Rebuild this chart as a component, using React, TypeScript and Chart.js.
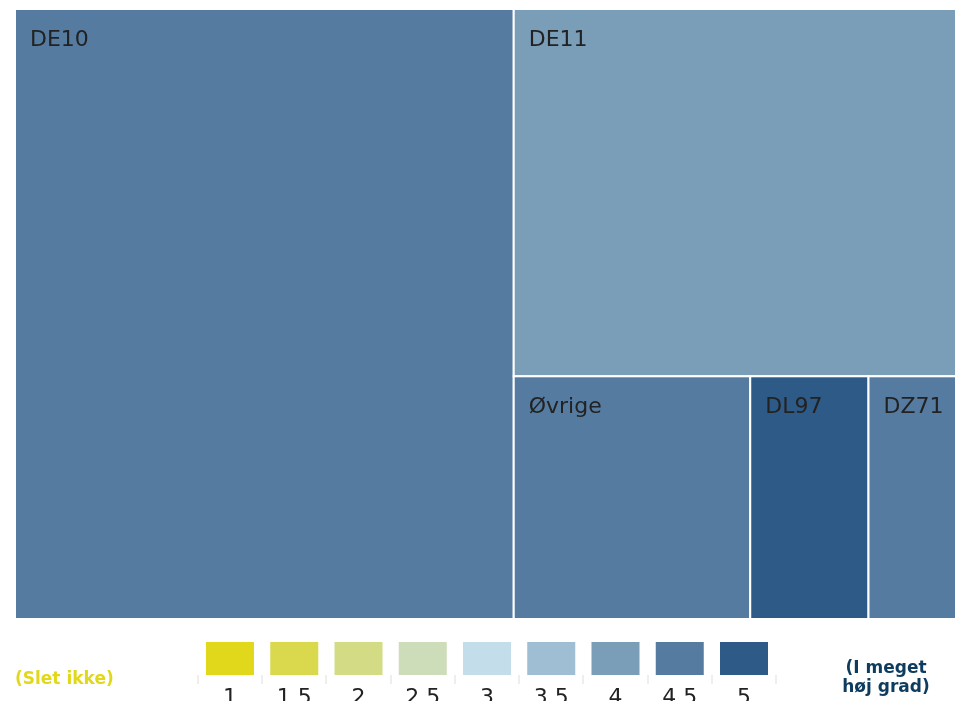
import { useEffect, useRef } from "react";
import { Chart, registerables } from "chart.js";

Chart.register(...registerables);

// ---- data ----
const categories = ["DE10", "DE11", "Øvrige", "DL97", "DZ71"];
const values = [53, 28.3, 10, 5, 3.7];
const scores = [4.5, 4, 4.5, 5, 4.5];
// nesting level at which each item gets its own strip (slice-and-dice hierarchy)
const stripLevels = [0, 1, 2, 2, 2];
const legendTicks = [1, 1.5, 2, 2.5, 3, 3.5, 4, 4.5, 5];
const legendColors = [
  "#e1d81b",
  "#dad84d",
  "#d4db85",
  "#cddcb9",
  "#c4ddea",
  "#9fbdd3",
  "#7a9db8",
  "#557ca0",
  "#2e5a87",
];
const lowLabel = "(Slet ikke)";
const highLabel = ["(I meget", "høj grad)"];

function colorForScore(s: number) {
  let best = 0;
  let bd = Infinity;
  legendTicks.forEach((t, i) => {
    const d = Math.abs(t - s);
    if (d < bd) {
      bd = d;
      best = i;
    }
  });
  return legendColors[best];
}

type Cell = { idx: number; x0: number; x1: number; y0: number; y1: number };

function layout(
  items: number[],
  x0: number,
  x1: number,
  y0: number,
  y1: number,
  level: number,
  sx: any,
  sy: any,
  out: Cell[]
) {
  const group = items.filter((i) => stripLevels[i] === level);
  const rest = items.filter((i) => stripLevels[i] > level);
  const nodes: { idx: number; v: number }[] = group.map((i) => ({ idx: i, v: values[i] }));
  if (rest.length) nodes.push({ idx: -1, v: rest.reduce((a, i) => a + values[i], 0) });
  const total = nodes.reduce((a, n) => a + n.v, 0);
  const wPx = Math.abs(sx.getPixelForValue(x1) - sx.getPixelForValue(x0));
  const hPx = Math.abs(sy.getPixelForValue(y1) - sy.getPixelForValue(y0));
  const alongX = wPx >= hPx;
  let pos = alongX ? x0 : y0;
  for (const n of nodes) {
    const frac = n.v / total;
    let c: Cell;
    if (alongX) {
      const e = pos + (x1 - x0) * frac;
      c = { idx: n.idx, x0: pos, x1: e, y0, y1 };
      pos = e;
    } else {
      const e = pos + (y1 - y0) * frac;
      c = { idx: n.idx, x0, x1, y0: pos, y1: e };
      pos = e;
    }
    if (n.idx >= 0) out.push(c);
    else layout(rest, c.x0, c.x1, c.y0, c.y1, level + 1, sx, sy, out);
  }
}

const treemapPlugin = {
  id: "treemapPlugin",
  afterDraw(chart: any) {
    const ctx = chart.ctx as CanvasRenderingContext2D;
    const sx = chart.scales.x;
    const sy = chart.scales.y;
    const cells: Cell[] = [];
    layout(categories.map((_, i) => i), 0, 100, 0, 100, 0, sx, sy, cells);
    ctx.save();
    for (const c of cells) {
      const px0 = sx.getPixelForValue(c.x0);
      const px1 = sx.getPixelForValue(c.x1);
      const py0 = sy.getPixelForValue(c.y0);
      const py1 = sy.getPixelForValue(c.y1);
      ctx.fillStyle = colorForScore(scores[c.idx]);
      ctx.fillRect(px0, py0, px1 - px0, py1 - py0);
      ctx.strokeStyle = "#ffffff";
      ctx.lineWidth = 2;
      ctx.strokeRect(px0, py0, px1 - px0, py1 - py0);
    }
    ctx.font = '22px "DejaVu Sans"';
    ctx.fillStyle = "#222222";
    ctx.textAlign = "left";
    ctx.textBaseline = "alphabetic";
    for (const c of cells) {
      const px0 = sx.getPixelForValue(c.x0);
      const py0 = sy.getPixelForValue(c.y0);
      ctx.fillText(categories[c.idx], px0 + 15, py0 + 37);
    }

    // colour legend
    const area = chart.chartArea;
    const cellW = 64.25;
    const legLeft = (area.left + area.right) / 2 + 1.5 - (legendTicks.length * cellW) / 2;
    const boxTop = 642;
    const boxW = 48;
    const boxH = 33;
    legendTicks.forEach((t, i) => {
      const cx = legLeft + cellW * (i + 0.5);
      ctx.fillStyle = legendColors[i];
      ctx.fillRect(cx - boxW / 2, boxTop, boxW, boxH);
    });
    ctx.fillStyle = "#eeeeee";
    for (let k = 0; k <= legendTicks.length; k++) {
      const x = legLeft + cellW * k;
      ctx.fillRect(Math.round(x) - 1, boxTop + boxH, 2, 9);
    }
    ctx.font = '22px "DejaVu Sans"';
    ctx.fillStyle = "#222222";
    ctx.textAlign = "center";
    legendTicks.forEach((t, i) => {
      const cx = legLeft + cellW * (i + 0.5);
      ctx.fillText(String(t), cx, 704);
    });

    ctx.font = 'bold 17px "DejaVu Sans"';
    ctx.textAlign = "left";
    ctx.fillStyle = "#e1d81b";
    ctx.fillText(lowLabel, area.left, 684);
    ctx.textAlign = "center";
    ctx.fillStyle = "#0d3c5e";
    ctx.fillText(highLabel[0], 886, 673);
    ctx.fillText(highLabel[1], 886, 692);
    ctx.restore();
  },
};

export default function App() {
  const ref = useRef<HTMLCanvasElement | null>(null);
  useEffect(() => {
    if (!ref.current) return;
    const chart = new Chart(ref.current, {
      type: "scatter",
      data: { datasets: [{ data: [], pointRadius: 0 }] },
      options: {
        responsive: false,
        devicePixelRatio: 1,
        animation: false,
        layout: { padding: { left: 15, top: 9, right: 0, bottom: 111 } },
        plugins: { legend: { display: false }, tooltip: { enabled: false } },
        scales: {
          x: { type: "linear", min: 0, max: 100, display: false },
          y: { type: "linear", min: 0, max: 100, reverse: true, display: false },
        },
      },
      plugins: [treemapPlugin],
    });
    return () => chart.destroy();
  }, []);
  return (
    <div
      style={{
        position: "fixed",
        left: 0,
        top: 0,
        width: 955,
        height: 701,
        overflow: "hidden",
        background: "#ffffff",
      }}
    >
      <canvas ref={ref} width={956} height={730} style={{ display: "block" }} />
    </div>
  );
}
